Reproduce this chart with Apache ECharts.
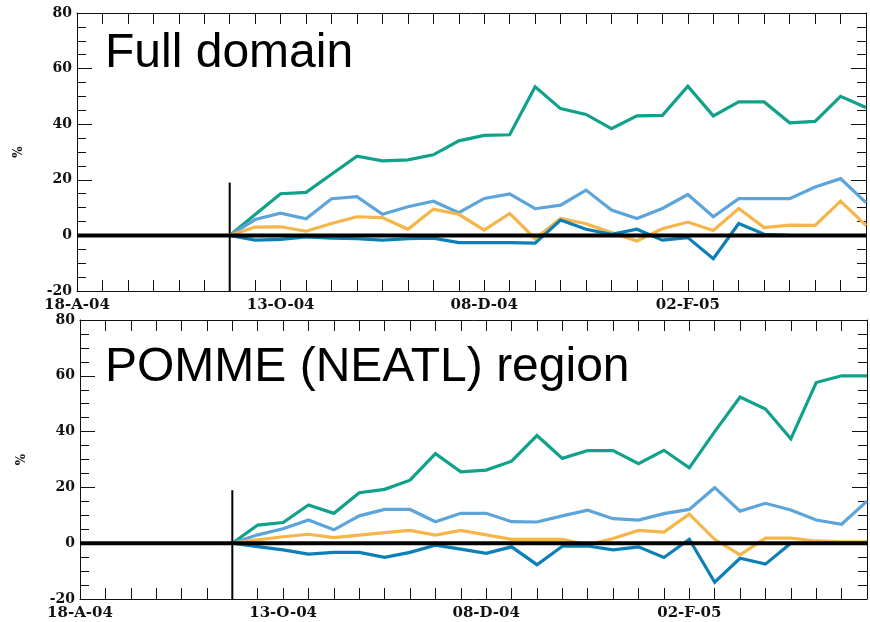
<!DOCTYPE html>
<html>
<head>
<meta charset="utf-8">
<script src="https://cdn.jsdelivr.net/npm/echarts@6/dist/echarts.min.js"></script>
<style>
  html, body { margin: 0; padding: 0; background: #fff; }
  #chart { width: 870px; height: 622px; }
</style>
</head>
<body>
<div id="chart"></div>
<script>
// Weeks counted from 18 Aug 2004; the runs start at week 6.
const weeks = [6, 7, 8, 9, 10, 11, 12, 13, 14, 15, 16, 17, 18, 19, 20, 21, 22, 23, 24, 25, 26, 27, 28, 29, 30, 31];
const tickWeeks = [0, 8, 16, 24];
const tickLabels = ['18-A-04', '13-O-04', '08-D-04', '02-F-05'];
const yTicks = [-20, 0, 20, 40, 60, 80];

const panelTitles = ['Full domain', 'POMME (NEATL) region'];

// Full domain
const fullTeal   = [0, 7.5, 15, 15.5, 22, 28.5, 26.8, 27.2, 29, 34, 36, 36.2, 53.5, 45.6, 43.5, 38.4, 43, 43.2, 53.7, 43, 48, 48, 40.5, 41, 50, 46];
const fullLight  = [0, 5.7, 8, 6, 13.2, 13.9, 7.6, 10.3, 12.3, 8.2, 13.3, 14.9, 9.6, 10.9, 16.3, 9.1, 6.1, 9.7, 14.7, 6.7, 13.2, 13.2, 13.2, 17.4, 20.4, 11.8];
const fullOrange = [0, 3, 3.1, 1.5, 4.3, 6.7, 6.4, 2.2, 9.4, 7.6, 1.9, 7.9, -1.2, 6.1, 4.2, 1, -2, 2.4, 4.8, 1.8, 9.7, 2.8, 3.7, 3.6, 12.3, 3.6];
const fullDark   = [0, -1.7, -1.4, -0.5, -1, -1.2, -1.7, -1.2, -1, -2.6, -2.6, -2.6, -2.8, 5.5, 2.2, 0.4, 2.2, -1.7, -0.8, -8.4, 4.3, 0.4, 0];

// POMME (NEATL) region
const regTeal   = [0, 6.5, 7.4, 13.7, 10.7, 18.1, 19.3, 22.6, 32.1, 25.6, 26.2, 29.4, 38.6, 30.4, 33.2, 33.2, 28.5, 33.3, 27, 40, 52.4, 48.1, 37.4, 57.6, 60, 60];
const regLight  = [0, 3, 5.2, 8.3, 4.8, 9.8, 12.1, 12.1, 7.7, 10.7, 10.7, 7.7, 7.6, 9.8, 11.8, 8.8, 8.3, 10.6, 12.1, 19.9, 11.5, 14.3, 11.9, 8.3, 6.8, 15.1];
const regOrange = [0, 1.2, 2.3, 3.2, 2, 2.9, 3.8, 4.6, 2.9, 4.6, 3, 1.4, 1.4, 1.4, -0.6, 1.7, 4.6, 4, 10.4, 1.4, -4.2, 1.8, 1.8, 0.8, 0.5, 0.5];
const regDark   = [0, -1.2, -2.4, -3.9, -3.3, -3.3, -5.1, -3.3, -0.7, -2.1, -3.6, -1.3, -7.7, -1.1, -1, -2.4, -1.3, -5.1, 1.4, -14, -5.4, -7.5, 0];

// Start-of-forecast marker and the zero reference
const startMarker = [[6, -20], [6, 19]];
const zeroLine = [[0, 0], [31, 0]];

const colors = { teal: '#10a18b', light: '#5ca4da', orange: '#f5b548', dark: '#0b7fb6' };

const yLabelFont = { fontFamily: 'DejaVu Serif', fontWeight: 'bold', fontSize: 14, color: '#111' };
const xLabelFont = { fontFamily: 'DejaVu Serif', fontWeight: 'bold', fontSize: 15, color: '#111' };

const pairs = (vals) => vals.map((v, i) => [weeks[i], v]);

const grids = [
  { left: 77, top: 13, width: 789, height: 278 },
  { left: 80, top: 320, width: 787, height: 279 }
];

const xAxes = [];
const yAxes = [];
grids.forEach((g, gi) => {
  // bottom axis with date labels
  xAxes.push({
    type: 'value', gridIndex: gi, min: 0, max: 31, interval: 1,
    axisLine: { show: true, onZero: false, lineStyle: { color: '#111', width: 1 } },
    axisTick: { show: true, inside: true, length: 11, lineStyle: { color: '#111' } },
    axisLabel: Object.assign({
      margin: 7,
      formatter: (v) => { const k = tickWeeks.indexOf(v); return k >= 0 ? tickLabels[k] : ''; }
    }, xLabelFont),
    splitLine: { show: false }
  });
  // mirrored top axis
  xAxes.push({
    type: 'value', gridIndex: gi, position: 'top', min: 0, max: 31, interval: 1,
    axisLine: { show: true, onZero: false, lineStyle: { color: '#111', width: 1 } },
    axisTick: { show: true, inside: true, length: 11, lineStyle: { color: '#111' } },
    axisLabel: { show: false },
    splitLine: { show: false }
  });
  yAxes.push({
    type: 'value', gridIndex: gi, min: yTicks[0], max: yTicks[yTicks.length - 1], interval: 20,
    name: '%', nameLocation: 'middle', nameGap: 52, nameRotate: 90,
    nameTextStyle: { fontFamily: 'DejaVu Serif', fontWeight: 'bold', fontSize: 12, color: '#111' },
    axisLine: { show: true, onZero: false, lineStyle: { color: '#111', width: 1 } },
    axisTick: { show: true, inside: true, length: 15, lineStyle: { color: '#111' } },
    minorTick: { show: true, splitNumber: 4, length: 9, lineStyle: { color: '#111' } },
    axisLabel: Object.assign({ margin: 5 }, yLabelFont),
    splitLine: { show: false }
  });
  yAxes.push({
    type: 'value', gridIndex: gi, position: 'right', min: yTicks[0], max: yTicks[yTicks.length - 1], interval: 20,
    axisLine: { show: true, onZero: false, lineStyle: { color: '#111', width: 1 } },
    axisTick: { show: true, inside: true, length: 15, lineStyle: { color: '#111' } },
    minorTick: { show: true, splitNumber: 4, length: 9, lineStyle: { color: '#111' } },
    axisLabel: { show: false },
    splitLine: { show: false }
  });
});

function line(gi, vals, color, z) {
  return {
    type: 'line', xAxisIndex: gi * 2, yAxisIndex: gi * 2, data: pairs(vals),
    showSymbol: false, symbol: 'none', silent: true, animation: false,
    lineStyle: { color: color, width: 3.2, join: 'miter' }, z: z
  };
}
function plain(gi, data, width, z) {
  return {
    type: 'line', xAxisIndex: gi * 2, yAxisIndex: gi * 2, data: data,
    showSymbol: false, symbol: 'none', silent: true, animation: false,
    lineStyle: { color: '#000', width: width }, z: z
  };
}

const panels = [
  [fullTeal, fullLight, fullOrange, fullDark],
  [regTeal, regLight, regOrange, regDark]
];

const series = [];
panels.forEach((p, gi) => {
  series.push(plain(gi, startMarker, 2, 2));
  series.push(line(gi, p[0], colors.teal, 3));
  series.push(line(gi, p[1], colors.light, 4));
  series.push(line(gi, p[2], colors.orange, 5));
  series.push(line(gi, p[3], colors.dark, 6));
  series.push(plain(gi, zeroLine, 4, 7));
});

// Panel captions, placed by their vertical centre
const titleY = [53.4, 367.5];
const graphic = panelTitles.map((t, i) => ({
  type: 'text', x: 105, y: titleY[i], z: 20,
  style: { text: t, font: '48px "Liberation Sans", Arial, sans-serif', fill: '#000', verticalAlign: 'middle' }
}));

const chart = echarts.init(document.getElementById('chart'), null, { renderer: 'canvas' });
chart.setOption({
  animation: false,
  backgroundColor: '#fff',
  grid: grids.map(g => Object.assign({ containLabel: false, show: false }, g)),
  xAxis: xAxes,
  yAxis: yAxes,
  series: series,
  graphic: graphic
});
</script>
</body>
</html>
